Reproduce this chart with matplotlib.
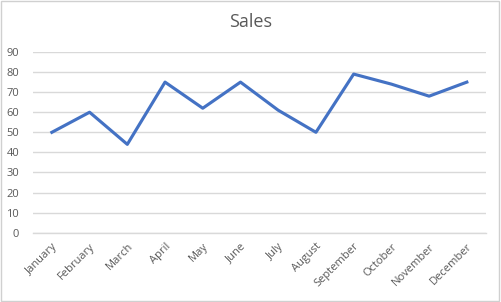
import matplotlib
matplotlib.use("Agg")
import matplotlib.pyplot as plt
from matplotlib.patches import Rectangle

months = ["January", "February", "March", "April", "May", "June",
          "July", "August", "September", "October", "November", "December"]
sales = [50, 60, 44, 75, 62, 75, 61, 50, 79, 74, 68, 75]
y_ticks = [0, 10, 20, 30, 40, 50, 60, 70, 80, 90]

plt.rcParams['font.family'] = ['Open Sans', 'DejaVu Sans']

fig = plt.figure(figsize=(5.01, 3.02), dpi=100)
ax = fig.add_axes([33 / 501, 69.3 / 302, 452.7 / 501, 180.7 / 302])

x = list(range(len(months)))
ax.plot(x, sales, color='#4472C4', linewidth=2.25, solid_joinstyle='round', zorder=3)

ax.set_xlim(-0.5, len(months) - 0.5)
ax.set_ylim(0, 90)
ax.set_yticks(y_ticks)
ax.set_xticks(x)
ax.set_xticklabels(months, rotation=45, ha='right', rotation_mode='anchor')
ax.tick_params(axis='both', length=0, labelsize=8, labelcolor='#595959')
ax.tick_params(axis='y', pad=10)
ax.tick_params(axis='x', pad=6)
ax.grid(axis='y', color='#D9D9D9', linewidth=1)
ax.set_axisbelow(True)
for side in ['top', 'right', 'left']:
    ax.spines[side].set_visible(False)
ax.spines['bottom'].set_color('#D9D9D9')
ax.spines['bottom'].set_linewidth(1)

fig.text(0.5, 1 - 22 / 302, "Sales", ha='center', va='center',
         fontsize=13, color='#595959')

# chart border
fig.patches.append(Rectangle((0.002, 0.003), 0.995, 0.993, transform=fig.transFigure,
                             fill=False, edgecolor='#D0D0D0', linewidth=1))

fig.savefig("out.png", dpi=100)
